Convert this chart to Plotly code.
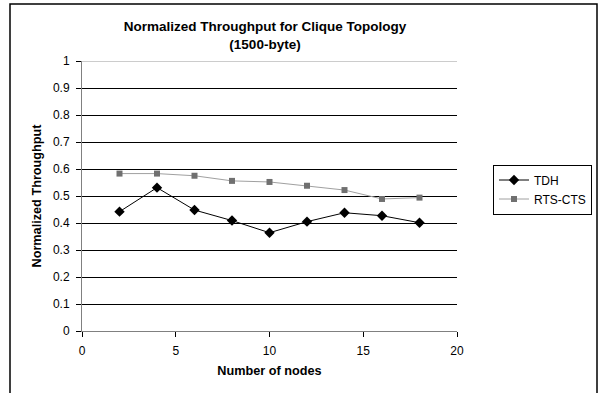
import plotly.graph_objects as go

nodes = [2, 4, 6, 8, 10, 12, 14, 16, 18]
tdh = [0.442, 0.531, 0.448, 0.409, 0.364, 0.405, 0.438, 0.427, 0.401]
rts_cts = [0.583, 0.583, 0.575, 0.556, 0.552, 0.538, 0.522, 0.489, 0.494]
x_ticks = [0, 5, 10, 15, 20]
y_ticks = [0, 0.1, 0.2, 0.3, 0.4, 0.5, 0.6, 0.7, 0.8, 0.9, 1]

FONT = "Liberation Sans, Arial, sans-serif"

fig = go.Figure()
fig.add_trace(go.Scatter(
    x=nodes, y=tdh, name="TDH", mode="lines+markers",
    line=dict(color="#000000", width=1),
    marker=dict(symbol="diamond", size=8, color="#000000"),
))
fig.add_trace(go.Scatter(
    x=nodes, y=rts_cts, name="RTS-CTS", mode="lines+markers",
    line=dict(color="#a0a0a0", width=1),
    marker=dict(symbol="square", size=6, color="#707070"),
))

fig.update_layout(
    width=600, height=393,
    margin=dict(l=82, r=143, t=61, b=62, autoexpand=False),
    paper_bgcolor="white", plot_bgcolor="white",
    font=dict(family=FONT, size=12, color="#000000"),
    title=dict(
        text="<b>Normalized Throughput for Clique Topology<br>(1500-byte)</b>",
        x=265 / 600, xanchor="center", y=1 - 31 / 393, yanchor="top",
        font=dict(size=13.5, family=FONT),
    ),
    xaxis=dict(
        range=[0, 20], tickvals=x_ticks, ticks="outside", ticklen=5,
        tickcolor="#000000", showline=True, linecolor="#808080", linewidth=1,
        showgrid=False, zeroline=False, ticklabelstandoff=4,
        title=dict(text="<b>Number of nodes</b>", font=dict(size=12.7), standoff=8),
        tickfont=dict(size=12),
    ),
    yaxis=dict(
        range=[0, 1], tickvals=y_ticks, ticktext=[str(v) for v in y_ticks],
        ticks="outside", ticklen=5, tickcolor="#000000",
        showline=True, linecolor="#808080", linewidth=1,
        showgrid=True, gridcolor="#000000", gridwidth=1, zeroline=False,
        ticklabelstandoff=4,
        title=dict(text="<b>Normalized Throughput</b>", font=dict(size=12.7), standoff=8),
        tickfont=dict(size=12),
    ),
    legend=dict(
        x=(493 - 82) / 375, y=(331 - 189.5) / 270, xanchor="left", yanchor="middle",
        bordercolor="#000000", borderwidth=1, bgcolor="white",
        font=dict(size=12), tracegroupgap=0, itemwidth=30,
    ),
    showlegend=True,
)

# top gridline at 1 (lighter, as in the reference)
fig.add_shape(
    type="line", xref="paper", yref="y", x0=0, x1=1, y0=1, y1=1,
    line=dict(color="#999999", width=1),
)

fig.add_shape(
    type="rect", xref="paper", yref="paper",
    x0=(10 - 82) / 375, x1=(597 - 82) / 375,
    y0=(331 - 420) / 270, y1=(331 - 4) / 270,
    line=dict(color="#000000", width=1.5), layer="below",
)

fig.write_html("out.html")
